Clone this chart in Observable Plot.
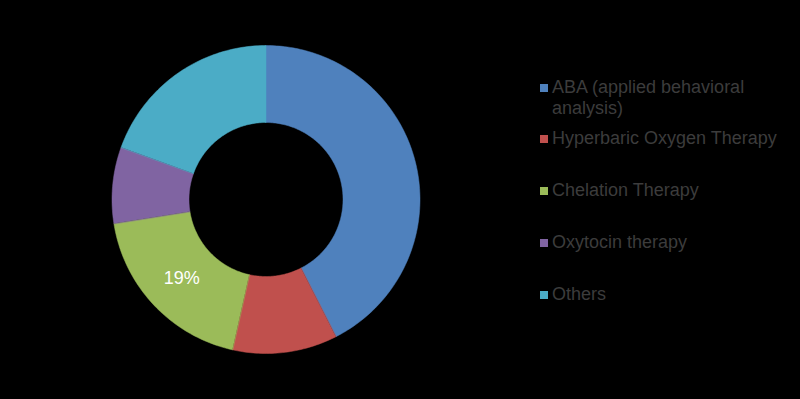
<!DOCTYPE html>
<html>
<head>
<meta charset="utf-8">
<script src="https://cdn.jsdelivr.net/npm/d3@7"></script>
<script src="https://cdn.jsdelivr.net/npm/@observablehq/plot@0.6"></script>
<style>
  html, body { margin: 0; padding: 0; background: #000; }
  #wrap { position: relative; width: 800px; height: 399px; background: #000; overflow: hidden; font-family: "Liberation Sans", Arial, sans-serif; }
  #chart { position: absolute; left: 0; top: 0; }
  .leg { position: absolute; left: 552px; width: 240px; color: #3c3c3c; font-size: 18px; line-height: 21px; }
  .sw { position: absolute; left: -12px; top: 7px; width: 8px; height: 8px; }
</style>
</head>
<body>
<div id="wrap"><div id="chart"></div></div>
<script>
const categories = ["ABA (applied behavioral analysis)", "Hyperbaric Oxygen Therapy", "Chelation Therapy", "Oxytocin therapy", "Others"];
const values = [42.5, 11, 19, 8, 19.5];
const colors = ["#4f81bd", "#c0504d", "#9bbb59", "#8064a2", "#4bacc6"];
const sliceLabels = ["", "", "19%", "", ""];

const innerRatio = 0.5;
const total = d3.sum(values);
const pts = [];
const labelPts = [];
let acc = 0;
categories.forEach((name, i) => {
  const a0 = acc / total * 2 * Math.PI;
  acc += values[i];
  const a1 = acc / total * 2 * Math.PI;
  const n = Math.max(8, Math.ceil((a1 - a0) / (Math.PI / 180)));
  for (let k = 0; k <= n; k++) {
    const a = a0 + (a1 - a0) * k / n;
    pts.push({name, x: Math.sin(a), y: Math.cos(a)});
  }
  for (let k = n; k >= 0; k--) {
    const a = a0 + (a1 - a0) * k / n;
    pts.push({name, x: innerRatio * Math.sin(a), y: innerRatio * Math.cos(a)});
  }
  if (sliceLabels[i]) {
    const am = (a0 + a1) / 2, r = (1 + innerRatio) / 2;
    labelPts.push({text: sliceLabels[i], x: r * Math.sin(am), y: r * Math.cos(am)});
  }
});

const chart = Plot.plot({
  width: 800,
  height: 399,
  marginLeft: 111.5,
  marginRight: 380.5,
  marginTop: 45,
  marginBottom: 46,
  style: {background: "#000", fontFamily: "Liberation Sans, Arial, sans-serif"},
  x: {domain: [-1, 1], axis: null},
  y: {domain: [-1, 1], axis: null},
  color: {domain: categories, range: colors},
  marks: [
    Plot.line(pts, {x: "x", y: "y", z: "name", fill: "name", stroke: "name", strokeWidth: 0.5, curve: "linear-closed"}),
    Plot.text(labelPts, {x: "x", y: "y", text: "text", fill: "#fff", fontSize: 18})
  ]
});
document.getElementById("chart").appendChild(chart);

const wrap = document.getElementById("wrap");
const legendTops = [77, 128, 180, 232, 284];
categories.forEach((name, i) => {
  const d = document.createElement("div");
  d.className = "leg";
  d.style.top = legendTops[i] + "px";
  d.textContent = name;
  const s = document.createElement("span");
  s.className = "sw";
  s.style.background = colors[i];
  d.appendChild(s);
  wrap.appendChild(d);
});
</script>
</body>
</html>
